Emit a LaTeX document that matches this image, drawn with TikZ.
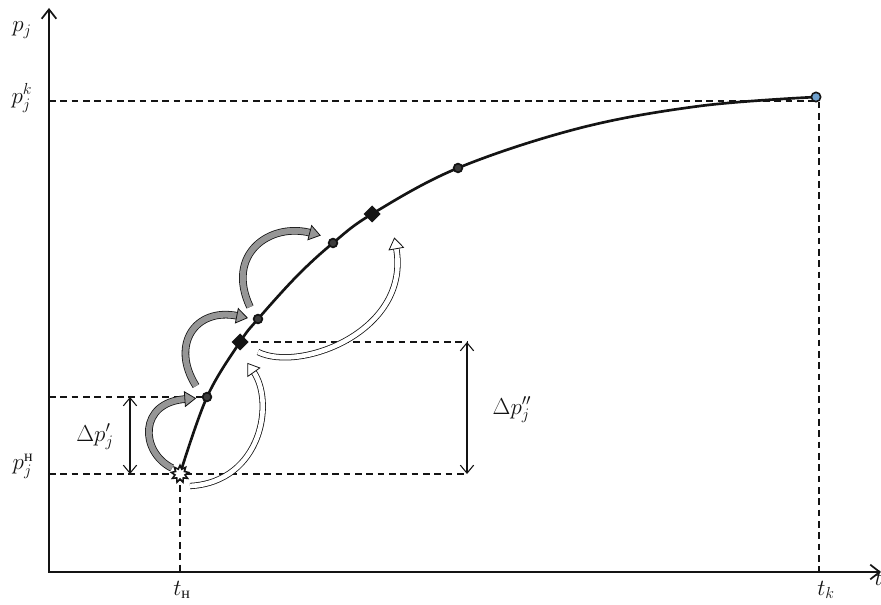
\documentclass[tikz,border=0pt]{standalone}
\usepackage{amsmath}
\usepackage{fontspec}
\newfontfamily\cyrfont{Liberation Serif}
\usetikzlibrary{arrows.meta,shapes.geometric,decorations.markings}
\definecolor{ink}{RGB}{20,20,20}
\definecolor{shade}{RGB}{150,150,150}
\definecolor{tipblue}{RGB}{110,160,205}
\newcommand{\nach}{\text{\cyrfont н}}
\tikzset{
  every picture/.style={color=ink, line width=0.6pt, font=\LARGE},
  axes/.style={{Straight Barb[length=7pt,width=11pt]}-{Straight Barb[length=7pt,width=11pt]}, line width=1.3pt},
  guide/.style={dash pattern=on 5pt off 3.5pt, line width=0.8pt},
  span/.style={{Straight Barb[length=6pt,width=10pt]}-{Straight Barb[length=6pt,width=10pt]}, line width=0.8pt},
  trend/.style={line width=2pt},
  probe/.style={circle, draw=ink, fill=shade!40!black, line width=1.3pt, inner sep=0pt, minimum size=6.5pt},
  jump/.style={diamond, fill=ink, inner sep=0pt, minimum size=13pt},
  startpt/.style={star, star points=9, star point ratio=1.7, draw=ink, fill=white, line width=1.2pt, inner sep=0pt, minimum size=13pt},
  endpt/.style={circle, draw=ink, fill=tipblue, line width=1.2pt, inner sep=0pt, minimum size=7pt},
  fat/.style 2 args={draw=ink, line width=0.6pt, double=#1, double distance=#2,
    postaction={decorate, decoration={markings, mark=at position 0.995 with {\filldraw[fill=#1, draw=ink, line width=0.6pt] (-0.5pt,-5.5pt) -- (7.5pt,0pt) -- (-0.5pt,5.5pt) -- cycle;}}}},
  grayhop/.style={fat={shade}{4.5pt}},
  whitehop/.style={fat={white}{3.5pt}},
  lbl/.style={inner sep=1pt},
}

\begin{document}
\begin{tikzpicture}[x=0.75pt, y=-0.75pt]
  % frame in pixels of the original, y running down
  \useasboundingbox (0,0) rectangle (881,605);
  \coordinate (O) at (49,572);
  \coordinate (ytop) at (49,8);
  \coordinate (xend) at (881,572);
  \coordinate (pk) at (819,101);
  \coordinate (t1) at (130,397);
  \coordinate (b1) at (130,474);
  \coordinate (t2) at (467,342);
  \coordinate (b2) at (467,474);
  % points of the search path
  \coordinate (c0) at (180,474);
  \coordinate (c1) at (207,397);
  \coordinate (c2) at (240,342);
  \coordinate (c3) at (258,319);
  \coordinate (m1) at (297,276);
  \coordinate (c4) at (333,243);
  \coordinate (c5) at (372,214);
  \coordinate (c6) at (458,168);
  \coordinate (c7) at (580,128);
  \coordinate (c8) at (700,106);
  \coordinate (c9) at (816,97);

  \draw[axes] (ytop) -- (O) -- (xend);
  \draw[guide] (O |- pk) -- (pk) -- (O -| pk);
  \draw[guide] (O |- c0) -- (b2);
  \draw[guide] (c0) -- (O -| c0);
  \draw[guide] (O |- c1) -- (c1);
  \draw[guide] (c2) -- (t2);
  \draw[span] (t1) -- (b1);
  \draw[span] (t2) -- (b2);

  \draw[trend] plot[smooth, tension=0.6] coordinates {(c0) (c1) (c2) (c3) (m1) (c4) (c5) (c6) (c7) (c8) (c9)};

  % small steps, left of the path
  \draw[grayhop] ([shift={(-8,-6)}]c0) .. controls +(-32,-16) and +(-48,3) .. ([shift={(-21,2)}]c1);
  \draw[grayhop] ([shift={(-11,-11)}]c1) .. controls +(-26,-41) and +(-43,-9) .. ([shift={(-20,-3)}]c3);
  \draw[grayhop] ([shift={(-8,-12)}]c3) .. controls +(-25,-53) and +(-41,-11) .. ([shift={(-22,-10)}]c4);
  % large steps, right of the path
  \draw[whitehop] ([shift={(10,12)}]c0) .. controls +(72,-4) and +(22,30) .. ([shift={(13,29)}]c2);
  \draw[whitehop] ([shift={(18,10)}]c2) .. controls +(42,21) and +(16,84) .. ([shift={(24,33)}]c5);

  \node[startpt] (S) at (c0) {};
  \node[probe] (P1) at (c1) {};
  \node[jump] (J1) at (c2) {};
  \node[probe] (P2) at (c3) {};
  \node[probe] (P3) at (c4) {};
  \node[jump] (J2) at (c5) {};
  \node[probe] (P4) at (c6) {};
  \node[endpt] (E) at (c9) {};

  \node[lbl] (ylab) at (22,30) {$p_j$};
  \node[lbl] (pklab) at (22,98) {$p_j^k$};
  \node[lbl] (pnlab) at (23,466) {$p_j^{\nach}$};
  \node[lbl] (dp1lab) at (95,437) {$\Delta p'_j$};
  \node[lbl] (dp2lab) at (512,410) {$\Delta p''_j$};
  \node[lbl] (tnlab) at (182,590) {$t_{\nach}$};
  \node[lbl] (tklab) at (826,590) {$t_k$};
  \node[lbl, anchor=west] (tlab) at (873,578) {$t$};
\end{tikzpicture}
\end{document}
